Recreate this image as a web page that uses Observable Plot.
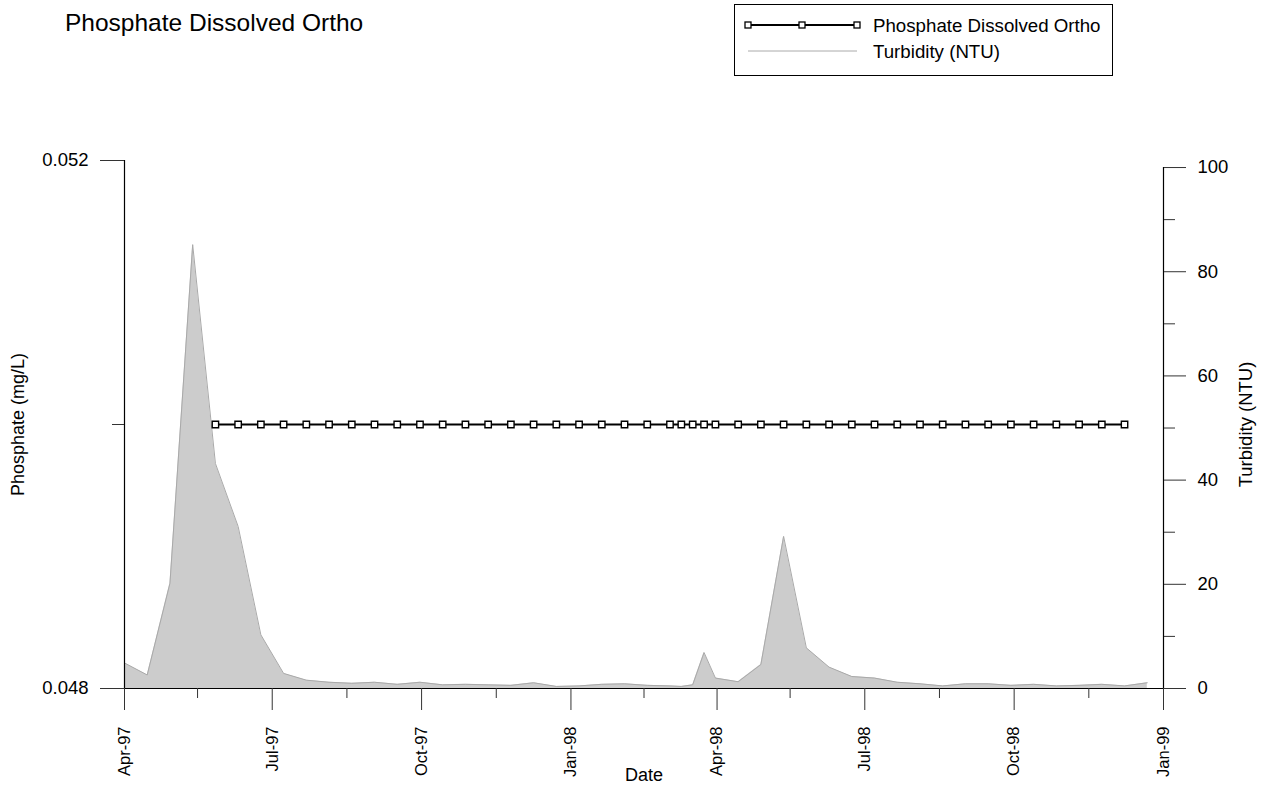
<!DOCTYPE html>
<html>
<head>
<meta charset="utf-8">
<script src="https://cdn.jsdelivr.net/npm/d3@7"></script>
<script src="https://cdn.jsdelivr.net/npm/@observablehq/plot@0.6"></script>
<style>
  html, body { margin: 0; padding: 0; background: #fff; }
  body { width: 1275px; height: 791px; overflow: hidden; font-family: "Liberation Sans", Arial, Helvetica, sans-serif; }
  #header { position: relative; width: 1275px; height: 100px; }
  #title { position: absolute; left: 65px; top: 10px; font-size: 24.5px; line-height: 26px; color: #000; white-space: nowrap; }
  #legend { position: absolute; left: 734px; top: 4px; width: 377px; height: 70px; border: 1px solid #000; }
  #legend svg { position: absolute; left: 0; top: 0; }
  #chart svg { display: block; }
</style>
</head>
<body>
<div id="header">
  <div id="title">Phosphate Dissolved Ortho</div>
  <div id="legend">
    <svg width="377" height="70" font-family="Liberation Sans, Arial, sans-serif" font-size="18.7">
      <line x1="13" x2="122" y1="20" y2="20" stroke="#000" stroke-width="2"></line>
      <rect x="10" y="17" width="6" height="6" fill="#fff" stroke="#000" stroke-width="1.3"></rect>
      <rect x="64" y="17" width="6" height="6" fill="#fff" stroke="#000" stroke-width="1.3"></rect>
      <rect x="119" y="17" width="6" height="6" fill="#fff" stroke="#000" stroke-width="1.3"></rect>
      <text x="138" y="20" dy="0.35em" fill="#000">Phosphate Dissolved Ortho</text>
      <line x1="13" x2="122" y1="46" y2="46" stroke="#aaa" stroke-width="1"></line>
      <text x="138" y="46" dy="0.35em" fill="#000">Turbidity (NTU)</text>
    </svg>
  </div>
</div>
<div id="chart"></div>
<script>
// ---- Data ----
const turbDates = [
  "1997-04-01","1997-04-15","1997-04-29","1997-05-13","1997-05-27","1997-06-10","1997-06-24",
  "1997-07-08","1997-07-22","1997-08-05","1997-08-19","1997-09-02","1997-09-16","1997-09-30",
  "1997-10-14","1997-10-28","1997-11-11","1997-11-25","1997-12-09","1997-12-23","1998-01-06",
  "1998-01-20","1998-02-03","1998-02-17","1998-03-03","1998-03-10","1998-03-17","1998-03-24",
  "1998-03-31","1998-04-14","1998-04-28","1998-05-12","1998-05-26","1998-06-09","1998-06-23",
  "1998-07-07","1998-07-21","1998-08-04","1998-08-18","1998-09-01","1998-09-15","1998-09-29",
  "1998-10-13","1998-10-27","1998-11-10","1998-11-24","1998-12-08","1998-12-22"
];
const turbValues = [
  4.9, 2.6, 20.2, 85.2, 43.2, 31.1, 10.3,
  2.9, 1.6, 1.2, 1.0, 1.2, 0.8, 1.2,
  0.7, 0.8, 0.7, 0.6, 1.1, 0.4, 0.5,
  0.8, 0.9, 0.6, 0.5, 0.4, 0.7, 6.9,
  2.0, 1.3, 4.6, 29.2, 7.8, 4.1, 2.3,
  2.0, 1.2, 0.9, 0.5, 0.9, 0.9, 0.6,
  0.8, 0.5, 0.6, 0.8, 0.5, 1.1
];
const phosDates = [
  "1997-05-27","1997-06-10","1997-06-24","1997-07-08","1997-07-22","1997-08-05","1997-08-19",
  "1997-09-02","1997-09-16","1997-09-30","1997-10-14","1997-10-28","1997-11-11","1997-11-25",
  "1997-12-09","1997-12-23","1998-01-06","1998-01-20","1998-02-03","1998-02-17","1998-03-03",
  "1998-03-10","1998-03-17","1998-03-24","1998-03-31","1998-04-14","1998-04-28","1998-05-12",
  "1998-05-26","1998-06-09","1998-06-23","1998-07-07","1998-07-21","1998-08-04","1998-08-18",
  "1998-09-01","1998-09-15","1998-09-29","1998-10-13","1998-10-27","1998-11-10","1998-11-24",
  "1998-12-08"
];
const phosValues = [
  0.05,0.05,0.05,0.05,0.05,0.05,0.05,
  0.05,0.05,0.05,0.05,0.05,0.05,0.05,
  0.05,0.05,0.05,0.05,0.05,0.05,0.05,
  0.05,0.05,0.05,0.05,0.05,0.05,0.05,
  0.05,0.05,0.05,0.05,0.05,0.05,0.05,
  0.05,0.05,0.05,0.05,0.05,0.05,0.05,
  0.05
];
const xDomain = ["1997-04-01", "1999-01-01"];
const xMajorTicks = ["1997-04-01","1997-07-01","1997-10-01","1998-01-01","1998-04-01","1998-07-01","1998-10-01","1999-01-01"];
const xMinorTicks = ["1997-05-16","1997-08-16","1997-11-16","1998-02-15","1998-05-16","1998-08-16","1998-11-16"];
const phosDomain = [0.048, 0.052];
const phosMajorTicks = [0.048, 0.052];
const phosMinorTicks = [0.050];
const turbMajorTicks = [0, 20, 40, 60, 80, 100];
const turbMinorTicks = [10, 30, 50, 70, 90];
const turbTop = 101.35; // turbidity value level with the top of the phosphate axis

// ---- Build ----
const P = s => new Date(s + "T00:00:00Z");
const turbToY = v => phosDomain[0] + v * (phosDomain[1] - phosDomain[0]) / turbTop;
const yToTurb = y => Math.round((y - phosDomain[0]) * turbTop / (phosDomain[1] - phosDomain[0]));

const turb = turbDates.map((d, i) => ({date: P(d), v: turbValues[i]}));
const phos = phosDates.map((d, i) => ({date: P(d), v: phosValues[i]}));

const font = "Liberation Sans, Arial, sans-serif";
const ink = "#000";

const chart = Plot.plot({
  width: 1275,
  height: 691,
  marginTop: 60,
  marginBottom: 103,
  marginLeft: 124,
  marginRight: 112,
  style: {fontFamily: font, fontSize: "17px", color: "#000", background: "#fff"},
  x: {type: "utc", domain: xDomain.map(P)},
  y: {domain: phosDomain},
  marks: [
    Plot.areaY(turb, {x: "date", y1: phosDomain[0], y2: d => turbToY(d.v), fill: "#cccccc"}),
    Plot.lineY(turb, {x: "date", y: d => turbToY(d.v), stroke: "#a9a9a9", strokeWidth: 1}),
    // axis lines
    Plot.ruleX([P(xDomain[0])], {y1: phosDomain[0], y2: phosDomain[1], stroke: ink, strokeWidth: 1.2}),
    Plot.ruleX([P(xDomain[1])], {y1: phosDomain[0], y2: turbToY(100), stroke: ink, strokeWidth: 1.2}),
    Plot.ruleY([phosDomain[0]], {insetLeft: -24, insetRight: -22, stroke: ink, strokeWidth: 1.2}),
    // left axis
    Plot.axisY(phosMajorTicks, {anchor: "left", tickSize: 24, tickPadding: 12, tickFormat: d3.format(".3f"), label: null, fontSize: 18.5, stroke: "#333"}),
    Plot.axisY(phosMinorTicks, {anchor: "left", tickSize: 12, tickFormat: () => "", label: null, stroke: "#333"}),
    // right axis
    Plot.axisY(turbMajorTicks.map(turbToY), {anchor: "right", tickSize: 22, tickPadding: 12, tickFormat: yToTurb, label: null, fontSize: 18.5, stroke: "#333"}),
    Plot.axisY(turbMinorTicks.map(turbToY), {anchor: "right", tickSize: 11, tickFormat: () => "", label: null, stroke: "#333"}),
    // bottom axis
    Plot.axisX(xMajorTicks.map(P), {anchor: "bottom", tickSize: 22, tickPadding: 16, tickRotate: -90, tickFormat: d3.utcFormat("%b-%y"), label: null, fontSize: 16.5, stroke: "#333"}),
    Plot.axisX(xMinorTicks.map(P), {anchor: "bottom", tickSize: 10, tickFormat: () => "", label: null, stroke: "#333"}),
    // axis titles
    Plot.text(["Date"], {frameAnchor: "bottom", dy: 92, fontSize: 18, fill: ink, textAnchor: "middle"}),
    Plot.text(["Phosphate (mg/L)"], {frameAnchor: "left", dx: -106, rotate: -90, fontSize: 18, fill: ink, textAnchor: "middle"}),
    Plot.text(["Turbidity (NTU)"], {frameAnchor: "right", dx: 83, rotate: -90, fontSize: 18.5, fill: ink, textAnchor: "middle"}),
    // phosphate series
    Plot.lineY(phos, {x: "date", y: "v", stroke: "#000", strokeWidth: 2}),
    Plot.dot(phos, {x: "date", y: "v", symbol: "square", r: 3.6, fill: "#fff", stroke: "#000", strokeWidth: 1.4})
  ]
});
document.getElementById("chart").appendChild(chart);
</script>
</body>
</html>
